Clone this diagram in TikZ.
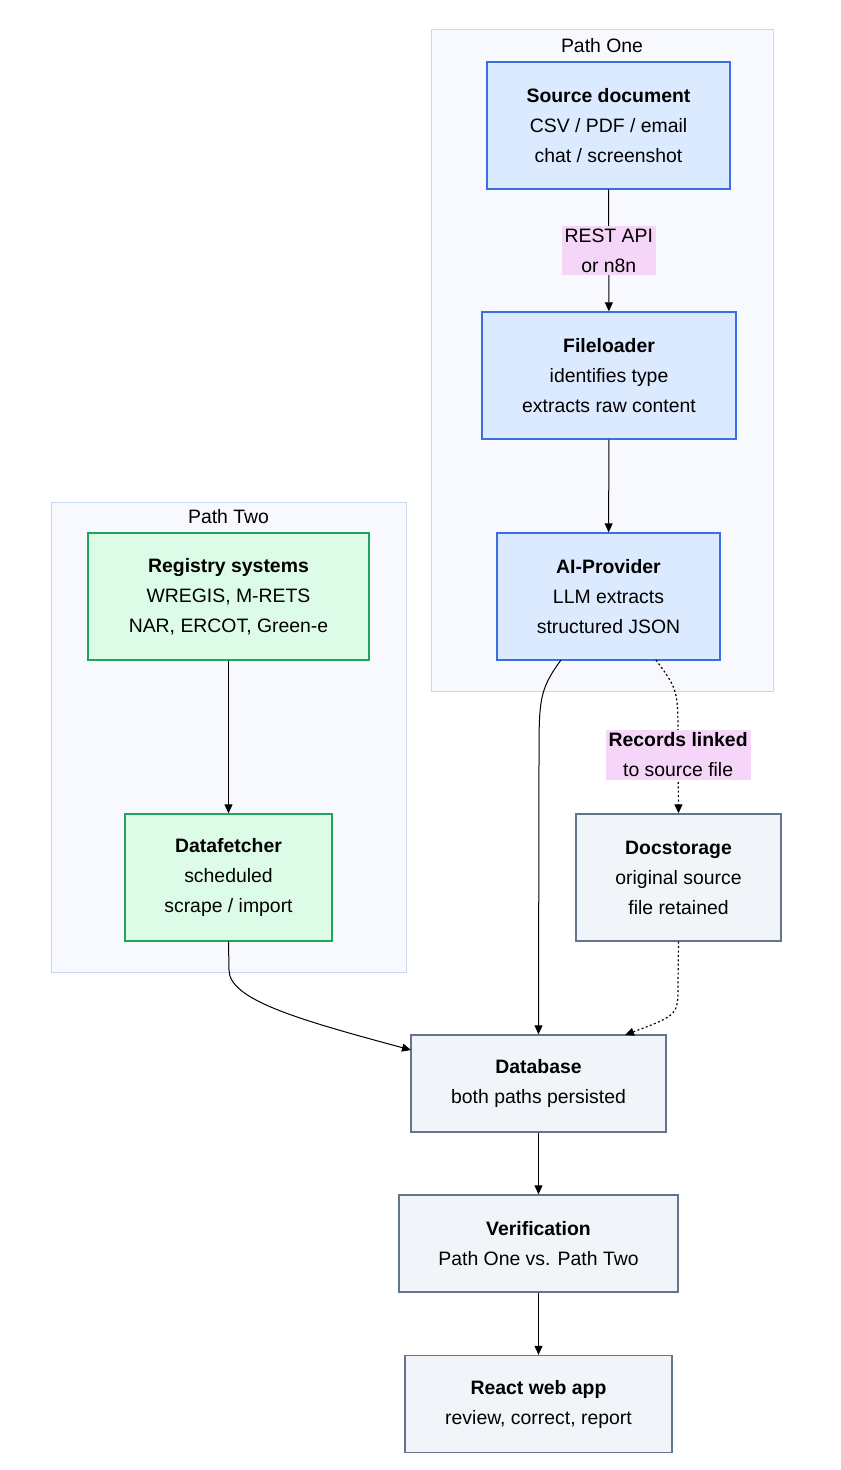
\documentclass[tikz,border=0pt]{standalone}
\usepackage{fontspec}
\setmainfont{Liberation Sans}
\usetikzlibrary{arrows.meta}
\definecolor{blueFill}{HTML}{DBEAFE}
\definecolor{blueLine}{HTML}{3B6FE0}
\definecolor{greenFill}{HTML}{DCFCE7}
\definecolor{greenLine}{HTML}{22A35A}
\definecolor{grayFill}{HTML}{F1F5F9}
\definecolor{grayLine}{HTML}{64748B}
\definecolor{clusterFill}{HTML}{F8F9FF}
\definecolor{clusterLine}{HTML}{C8D6EE}
\definecolor{tagFill}{HTML}{F5D5F8}
\begin{document}
\begin{tikzpicture}[x=0.5pt, y=-0.5pt,
        font=\fontsize{9.7}{15}\selectfont,
        box/.style={rectangle, draw, line width=0.7pt, align=center, inner sep=0pt},
        bluebox/.style={box, fill=blueFill, draw=blueLine, minimum height=63.5pt},
        greenbox/.style={box, fill=greenFill, draw=greenLine, minimum height=63.5pt},
        graybox/.style={box, fill=grayFill, draw=grayLine},
        cluster/.style={draw=clusterLine, fill=clusterFill, line width=0.5pt},
        tag/.style={fill=tagFill, align=center, inner sep=1.5pt},
        arrow/.style={-{Triangle[length=4.5pt,width=4pt]}, line width=0.5pt},
        dotarrow/.style={arrow, line width=0.6pt, dash pattern=on 1pt off 1.2pt}
    ]
        \useasboundingbox[fill=white] (0,0) rectangle (840,1470);

        % Clusters
        \draw[cluster] (431,30) rectangle (773,691);
        \node (pathone) at (602,46) {Path One};
        \draw[cluster] (51,502) rectangle (406,972);
        \node (pathtwo) at (228.5,517) {Path Two};

        % Path One
        \node[bluebox, minimum width=121.5pt] (source) at (608.5,125.5) {\textbf{Source document}\\CSV / PDF / email\\chat / screenshot};
        \node[bluebox, minimum width=127pt] (loader) at (609,375.5) {\textbf{Fileloader}\\identifies type\\extracts raw content};
        \node[bluebox, minimum width=111.5pt] (ai) at (608.5,596.5) {\textbf{AI-Provider}\\LLM extracts\\structured JSON};

        % Path Two
        \node[greenbox, minimum width=140.5pt] (registry) at (228.5,596.5) {\textbf{Registry systems}\\WREGIS, M-RETS\\NAR, ERCOT, Green-e};
        \node[greenbox, minimum width=103.5pt] (fetcher) at (228.5,877.5) {\textbf{Datafetcher}\\scheduled\\scrape / import};

        % Storage and output
        \node[graybox, minimum width=102.5pt, minimum height=63.5pt] (docs) at (678.5,877.5) {\textbf{Docstorage}\\original source\\file retained};
        \node[graybox, minimum width=127.5pt, minimum height=48.5pt] (db) at (538.5,1083.5) {\textbf{Database}\\both paths persisted};
        \node[graybox, minimum width=139.5pt, minimum height=48.5pt] (verify) at (538.5,1243.5) {\textbf{Verification}\\Path One vs. Path Two};
        \node[graybox, minimum width=133.5pt, minimum height=48.5pt] (app) at (538.5,1404) {\textbf{React web app}\\review, correct, report};

        % Arrows
        \draw[arrow] (source) -- node[tag] {REST API\\or n8n} (loader);
        \draw[arrow] (loader) -- (ai);
        \draw[arrow] (registry) -- (fetcher);
        \coordinate (aiL) at (561,660);
        \coordinate (aiR) at (656,660);
        \draw[arrow] (aiL) .. controls (539,690) and (539,700) .. (539,760) -- (db.north);
        \draw[dotarrow] (aiR) .. controls (678,690) .. (678,740) -- node[tag, pos=0.2] {\textbf{Records linked}\\to source file} (docs.north);
        \coordinate (dbR) at (625,1035);
        \draw[dotarrow] (docs.south) -- (678,985) .. controls (678,1015) .. (dbR);
        \coordinate (dbL) at (411,1050);
        \draw[arrow] (fetcher.south) -- (229,970) .. controls (229,1000) and (300,1020) .. (dbL);
        \draw[arrow] (db) -- (verify);
        \draw[arrow] (verify) -- (app);
    \end{tikzpicture}
\end{document}
